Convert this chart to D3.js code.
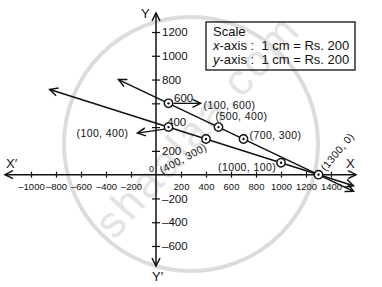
<!DOCTYPE html>
<html>
<head>
<meta charset="utf-8">
<script src="https://cdn.jsdelivr.net/npm/d3@7"></script>
<style>
  body { margin: 0; background: #fff; }
  svg { display: block; font-family: "Liberation Sans", Arial, sans-serif; }
</style>
</head>
<body>
<div class="content"></div>
<script>
//--> Data
const xTicks = [-1000, -800, -600, -400, -200, 200, 400, 600, 800, 1000, 1200, 1400];
const yTicks = [-600, -400, -200, 200, 400, 600, 800, 1000, 1200];

// x + 2y = 1300 and x + 3y = 1300, drawn between their arrow tips
const line1 = [[-300, 800], [1580, -140]];
const line2 = [[-850, 716.7], [1580, -93.3]];

const pointsX = [100, 500, 700, 1300, 100, 400, 1000];
const pointsY = [600, 400, 300, 0, 400, 300, 100];
const pointLabels = ["(100, 600)", "(500, 400)", "(700, 300)", "(1300, 0)", "(100, 400)", "(400, 300)", "(1000, 100)"];

const scaleLines = ["Scale", "-axis :  1 cm = Rs. 200", "-axis :  1 cm = Rs. 200"];

//--> Set up main elements
const width = 382;
const height = 287;

const svg = d3
  .select(".content")
  .append("svg")
  .attr("width", width)
  .attr("height", height);

const x = d3.scaleLinear().domain([-1000, 1400]).range([31, 331]);
const y = d3.scaleLinear().domain([-600, 1200]).range([246, 32]);

//--> Arrow marker
svg
  .append("defs")
  .append("marker")
  .attr("id", "arrow")
  .attr("markerUnits", "userSpaceOnUse")
  .attr("markerWidth", 12)
  .attr("markerHeight", 12)
  .attr("viewBox", "-10 -6 12 12")
  .attr("refX", 0)
  .attr("refY", 0)
  .attr("orient", "auto-start-reverse")
  .append("path")
  .attr("d", "M-8,-4 L0,0 L-8,4")
  .attr("fill", "none")
  .attr("stroke", "#111")
  .attr("stroke-width", 1.5);

//--> Watermark
const wm = svg.append("g").attr("pointer-events", "none");
wm.append("circle")
  .attr("cx", 191)
  .attr("cy", 144)
  .attr("r", 127)
  .attr("fill", "none")
  .attr("stroke", "#dcdcdc")
  .attr("stroke-width", 4);
wm.append("text")
  .attr("transform", "translate(200,128) rotate(-48)")
  .attr("text-anchor", "middle")
  .attr("dominant-baseline", "middle")
  .attr("font-size", 44)
  .attr("letter-spacing", 3)
  .attr("fill", "#e4e4e4")
  .text("shaalaa.com");

//--> Axes
const x0 = x(0);
const y0 = y(0);

svg.append("line")
  .attr("x1", 5).attr("x2", 356)
  .attr("y1", y0).attr("y2", y0)
  .attr("stroke", "#111").attr("stroke-width", 1.5)
  .attr("marker-start", "url(#arrow)")
  .attr("marker-end", "url(#arrow)");

svg.append("line")
  .attr("x1", x0).attr("x2", x0)
  .attr("y1", 266).attr("y2", 13)
  .attr("stroke", "#111").attr("stroke-width", 1.5)
  .attr("marker-start", "url(#arrow)")
  .attr("marker-end", "url(#arrow)");

const xAxis = svg
  .append("g")
  .attr("transform", `translate(0,${y0})`)
  .call(d3.axisBottom(x).tickValues(xTicks).tickSize(3).tickFormat(d => (d < 0 ? "\u2013" : "") + Math.abs(d)));
xAxis.select(".domain").remove();
xAxis.selectAll(".tick line").attr("y1", -3).attr("stroke", "#111").attr("stroke-width", 1.2);
xAxis.selectAll(".tick text")
  .attr("y", 9)
  .attr("font-size", 9.5)
  .attr("font-family", "Liberation Sans, Arial, sans-serif")
  .attr("fill", "#111");

const yAxis = svg
  .append("g")
  .attr("transform", `translate(${x0},0)`)
  .call(d3.axisRight(y).tickValues(yTicks).tickSize(4).tickFormat(d => (d < 0 ? "\u2013" : "") + Math.abs(d)));
yAxis.select(".domain").remove();
yAxis.selectAll(".tick line").attr("x1", -4).attr("stroke", "#111").attr("stroke-width", 1.2);
yAxis.selectAll(".tick text")
  .attr("x", 6)
  .attr("font-size", 11.5)
  .attr("font-family", "Liberation Sans, Arial, sans-serif")
  .attr("fill", "#111");
// labels nudged clear of the lines
yAxis.selectAll(".tick text")
  .filter(d => d === 600)
  .attr("x", 18).attr("dy", "-0.2em");
yAxis.selectAll(".tick text")
  .filter(d => d === 400)
  .attr("x", 11).attr("dy", "-0.15em");

svg.append("text").attr("x", 149).attr("y", 172).attr("font-size", 9).attr("fill", "#111").text("0");

svg.append("text").attr("x", 6).attr("y", 168).attr("font-size", 13).attr("fill", "#111").text("X\u2032");
svg.append("text").attr("x", 346).attr("y", 168).attr("font-size", 13).attr("fill", "#111").text("X");
svg.append("text").attr("x", 141).attr("y", 18).attr("font-size", 13).attr("fill", "#111").text("Y");
svg.append("text").attr("x", 152).attr("y", 281).attr("font-size", 13).attr("fill", "#111").text("Y\u2032");

//--> Lines
const lineGen = d3.line().x(d => x(d[0])).y(d => y(d[1]));
[line1, line2].forEach(l => {
  svg.append("path")
    .attr("d", lineGen(l))
    .attr("fill", "none")
    .attr("stroke", "#111")
    .attr("stroke-width", 1.5)
    .attr("marker-start", "url(#arrow)")
    .attr("marker-end", "url(#arrow)");
});

//--> Points
const pts = pointsX.map((v, i) => ({ x: v, y: pointsY[i], label: pointLabels[i] }));

const ptG = svg.selectAll(".pt").data(pts).join("g")
  .attr("class", "pt")
  .attr("transform", d => `translate(${x(d.x)},${y(d.y)})`);
ptG.append("circle").attr("r", 4.2).attr("fill", "#fff").attr("stroke", "#111").attr("stroke-width", 1.4);
ptG.append("circle").attr("r", 1.2).attr("fill", "#111");

//--> Point labels (placement offsets from the point)
const labelPlace = {
  "(100, 600)": { dx: 35, dy: 6, rot: 0 },
  "(500, 400)": { dx: -3, dy: -7, rot: 0 },
  "(700, 300)": { dx: 6, dy: 0, rot: 0 },
  "(1300, 0)": { dx: 7, dy: -3, rot: -50 },
  "(100, 400)": { dx: -92, dy: 10, rot: 0 },
  "(400, 300)": { dx: -44, dy: 35, rot: -28 },
  "(1000, 100)": { dx: -63, dy: 8, rot: 0 }
};

svg.selectAll(".plabel").data(pts).join("text")
  .attr("class", "plabel")
  .attr("font-size", 10.5)
  .attr("letter-spacing", 0.4)
  .attr("fill", "#111")
  .attr("transform", d => {
    const p = labelPlace[d.label];
    return `translate(${x(d.x) + p.dx},${y(d.y) + p.dy}) rotate(${p.rot})`;
  })
  .text(d => d.label);

// small pointer arrows to two labels
svg.append("line")
  .attr("x1", x(100) + 5).attr("y1", y(600))
  .attr("x2", x(100) + 32).attr("y2", y(600))
  .attr("stroke", "#111").attr("stroke-width", 1.3)
  .attr("marker-end", "url(#arrow)");
svg.append("line")
  .attr("x1", x(100) - 4).attr("y1", y(400) + 2)
  .attr("x2", x(100) - 31).attr("y2", y(400) + 6)
  .attr("stroke", "#111").attr("stroke-width", 1.3)
  .attr("marker-end", "url(#arrow)");

//--> Scale box
const box = svg.append("g").attr("transform", "translate(206,22)");
box.append("rect")
  .attr("width", 149).attr("height", 48)
  .attr("fill", "none")
  .attr("stroke", "#111").attr("stroke-width", 1.3);
box.append("text").attr("x", 7).attr("y", 14).attr("font-size", 13).attr("fill", "#111").text(scaleLines[0]);
["x", "y"].forEach((a, i) => {
  const t = box.append("text").attr("x", 7).attr("y", 28 + i * 14).attr("font-size", 13).attr("fill", "#111");
  t.append("tspan").attr("font-style", "italic").text(a);
  t.append("tspan").attr("xml:space", "preserve").style("white-space", "pre").text(scaleLines[i + 1]);
});
</script>
</body>
</html>
